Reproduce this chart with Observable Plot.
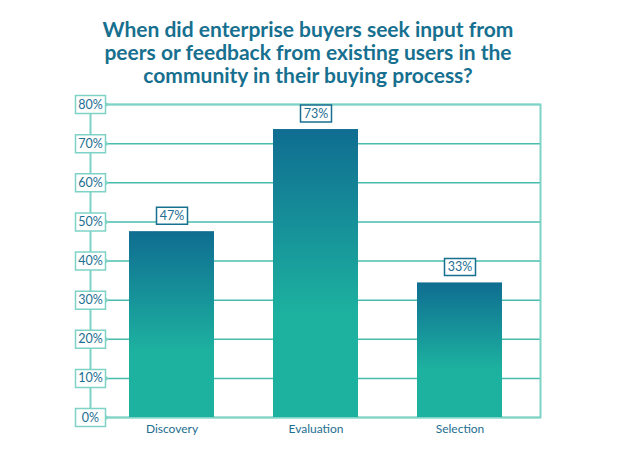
<!DOCTYPE html>
<html>
<head>
<meta charset="utf-8">
<script src="https://cdn.jsdelivr.net/npm/d3@7"></script>
<script src="https://cdn.jsdelivr.net/npm/@observablehq/plot@0.6"></script>
<style>
  html, body { margin: 0; padding: 0; background: #fff; }
  #title {
    width: 616px; height: 90px; box-sizing: border-box; padding-top: 17px;
    text-align: center; font-family: Lato, sans-serif; font-weight: bold;
    font-size: 21px; line-height: 23px; color: #17708f;
  }
  svg { overflow: visible; display: block; }
</style>
</head>
<body>
<div id="title">When did enterprise buyers seek input from<br>peers or feedback from existing users in the<br>community in their buying process?</div>
<div id="chart"></div>
<script>
const categories = ["Discovery", "Evaluation", "Selection"];
const values = [47.5, 73.6, 34.4];
const valueLabels = ["47%", "73%", "33%"];
const yTicks = [0, 10, 20, 30, 40, 50, 60, 70, 80];
const yTickLabels = ["0%", "10%", "20%", "30%", "40%", "50%", "60%", "70%", "80%"];

const data = categories.map((c, i) => ({category: c, value: values[i], label: valueLabels[i]}));
const ticks = yTicks.map((t, i) => ({t, label: yTickLabels[i]}));

const tickBox = {draw(ctx) { ctx.rect(-15, -9, 30, 18); ctx.moveTo(15, -2); ctx.lineTo(17, 0); ctx.lineTo(15, 2); }};
const valueBox = {draw(ctx) { ctx.rect(-15.5, -8.5, 31, 17); }};

const gradient = () => {
  const defs = d3.create("svg:defs");
  const g = defs.append("linearGradient").attr("id", "barGrad")
    .attr("x1", 0).attr("y1", 0).attr("x2", 0).attr("y2", 1);
  g.append("stop").attr("offset", "0%").attr("stop-color", "#0f6d91");
  g.append("stop").attr("offset", "65%").attr("stop-color", "#1db2a0");
  g.append("stop").attr("offset", "100%").attr("stop-color", "#1db2a0");
  return defs.node();
};

const chart = Plot.plot({
  width: 641,
  height: 366,
  marginTop: 14,
  marginBottom: 39,
  marginLeft: 90,
  marginRight: 101,
  style: {fontFamily: "Lato, sans-serif", fontSize: "12px", color: "#1d6e91", background: "white"},
  x: {domain: categories, paddingInner: 0.41, paddingOuter: 0.264, label: null, tickSize: 0, tickPadding: 7},
  y: {domain: [0, 80], axis: null},
  marks: [
    gradient,
    Plot.ruleY(yTicks, {stroke: "#48bcac", strokeWidth: 1.5}),
    Plot.frame({stroke: "#7fd3c6", strokeWidth: 2}),
    Plot.barY(data, {x: "category", y: "value", fill: "url(#barGrad)"}),
    Plot.dot(ticks, {y: "t", frameAnchor: "left", symbol: tickBox, fill: "white", stroke: "#7fd3c6", strokeWidth: 1.5}),
    Plot.text(ticks, {y: "t", frameAnchor: "left", textAnchor: "middle", text: "label", fill: "#1d6e91", fontSize: 12.5}),
    Plot.dot(data, {x: "category", y: "value", dy: -16, symbol: valueBox, fill: "white", stroke: "#17708f", strokeWidth: 1.5}),
    Plot.text(data, {x: "category", y: "value", dy: -16, text: "label", fill: "#1d6e91", fontSize: 12.5})
  ]
});
document.getElementById("chart").appendChild(chart);
</script>
</body>
</html>
